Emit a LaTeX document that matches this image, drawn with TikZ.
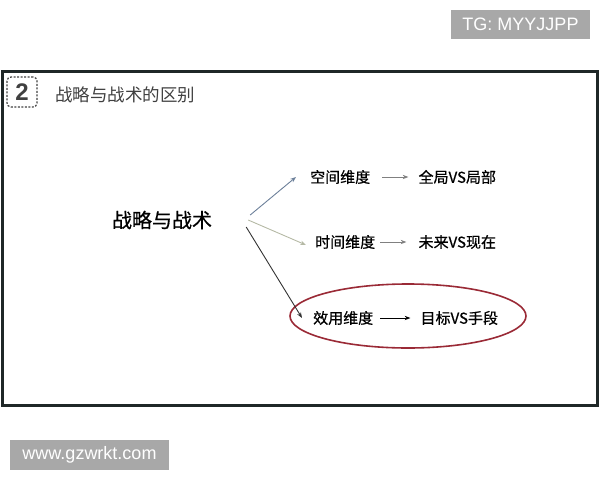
\documentclass[tikz,border=0pt]{standalone}
\usepackage{fontspec}
\setmainfont{Liberation Sans}
\newfontfamily\cjk{Noto Sans CJK SC}
\newfontfamily\cjkheavy[FakeBold=0.6]{Noto Sans CJK SC}
\usepackage{tikz}
\usetikzlibrary{
    positioning,      % For placing nodes relative to each other
    arrows.meta,      % For arrow tips
    shapes.geometric  % For the ellipse round the last row
}
\definecolor{frameDark}{HTML}{1F2727}
\definecolor{titleGray}{HTML}{404040}
\definecolor{tagGray}{HTML}{A8A8A8}
\definecolor{slateBlue}{HTML}{6B7F99}
\definecolor{paleGreen}{HTML}{B5B9A5}
\definecolor{wineRed}{HTML}{9A2A36}

\begin{document}
\begin{tikzpicture}[
    x=1pt, y=-1pt,
    % Style for the outer frame
    frame_style/.style={
        draw=frameDark,
        line width=3pt
    },
    % Style for the dashed number badge
    badge_style/.style={
        draw=titleGray,
        dash pattern=on 2pt off 1.5pt,
        line width=1.2pt,
        rounded corners=4pt,
        minimum width=30pt,
        minimum height=30pt,
        text=titleGray,
        font=\fontsize{24pt}{26pt}\selectfont\bfseries
    },
    % Style for the heading
    title_style/.style={
        inner sep=0pt,
        anchor=west,
        text=titleGray,
        font=\cjk\fontsize{17.5pt}{19pt}\selectfont
    },
    % Style for the central term
    main_style/.style={
        inner sep=0pt,
        font=\cjkheavy\fontsize{20pt}{22pt}\selectfont
    },
    % Style for the dimension texts
    dim_style/.style={
        inner sep=0pt,
        font=\cjkheavy\fontsize{15pt}{17pt}\selectfont
    },
    % Style for arrowheads
    arrow_tip/.style={
        -{Stealth[length=2mm, width=1.5mm]}
    },
    % Style for the gray watermark boxes
    tag_style/.style={
        fill=tagGray,
        text=white,
        inner sep=0pt,
        font=\fontsize{18pt}{20pt}\selectfont
    }
]
    \useasboundingbox (0,0) rectangle (600,480);

    % 1. The frame, the badge and the heading.
    \draw[frame_style] (2,71) rectangle (597,405);
    \node[badge_style] (badge) at (22,92) {2};
    \node[title_style] (title) at (55,95) {战略与战术的区别};

    % 2. The central term and the three dimensions.
    \node[main_style] (strategy) at (162,220) {战略与战术};

    \node[dim_style, anchor=west] (space_dim) at (310,177) {空间维度};
    \node[dim_style, right=48pt of space_dim] (space_res) {全局VS局部};

    \node[dim_style, anchor=west] (time_dim) at (315,242) {时间维度};
    \node[dim_style, right=43pt of time_dim] (time_res) {未来VS现在};

    \node[dim_style, anchor=west] (effect_dim) at (313,318) {效用维度};
    \node[dim_style, right=47pt of effect_dim] (effect_res) {目标VS手段};

    % 3. The red ellipse round the last row.
    \node[ellipse, draw=wineRed, line width=1.6pt, minimum width=236pt, minimum height=64pt] (highlight) at (408,316) {};

    % 4. The arrows from the central term.
    \draw[slateBlue, line width=0.9pt, arrow_tip] ([xshift=38pt, yshift=5pt]strategy.east) -- ([xshift=-14pt]space_dim.west);
    \draw[paleGreen, line width=0.9pt, arrow_tip] ([xshift=36pt]strategy.east) -- ([xshift=-9pt, yshift=-3pt]time_dim.west);
    \draw[black!80, line width=0.9pt, arrow_tip] ([xshift=34pt, yshift=-7pt]strategy.east) -- ([xshift=-11pt]effect_dim.west);

    % 5. The short arrows to the results.
    \draw[gray, line width=0.8pt, arrow_tip] ([xshift=12pt]space_dim.east) -- ([xshift=-10pt]space_res.west);
    \draw[gray, line width=0.8pt, arrow_tip] ([xshift=5pt]time_dim.east) -- ([xshift=-12pt]time_res.west);
    \draw[black, line width=0.8pt, arrow_tip] ([xshift=7pt]effect_dim.east) -- ([xshift=-10pt]effect_res.west);

    % 6. The watermark boxes.
    \node[tag_style, minimum width=139pt, minimum height=29pt] (tg_tag) at (520.5,24.5) {TG: MYYJJPP};
    \node[tag_style, minimum width=159pt, minimum height=30pt] (site_tag) at (89.5,455) {www.gzwrkt.com};

\end{tikzpicture}
\end{document}
